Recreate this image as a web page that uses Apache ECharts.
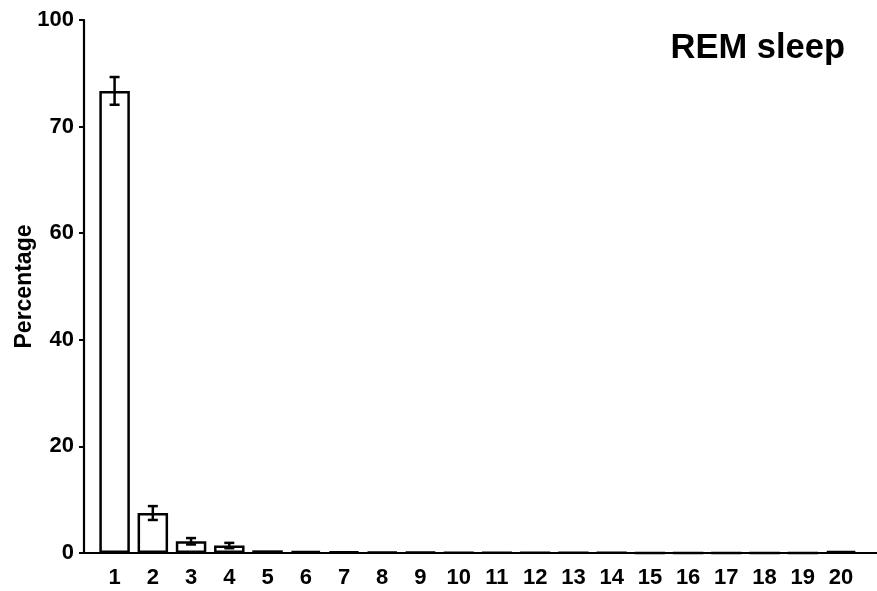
<!DOCTYPE html>
<html>
<head>
<meta charset="utf-8">
<script src="https://cdn.jsdelivr.net/npm/echarts@6/dist/echarts.min.js"></script>
<style>html,body{margin:0;padding:0;background:#fff}#c{width:877px;height:591px}</style>
</head>
<body>
<div id="c"></div>
<script>
const categories = [1,2,3,4,5,6,7,8,9,10,11,12,13,14,15,16,17,18,19,20];
const values = [86.7, 7.5, 2.2, 1.4, 0.5, 0.35, 0.25, 0.2, 0.15, 0.1, 0.1, 0.05, 0.05, 0.05, 0, 0, 0, 0, 0, 0.35];
const errors = [2.6, 1.3, 0.6, 0.5, 0, 0, 0, 0, 0, 0, 0, 0, 0, 0, 0, 0, 0, 0, 0, 0];
const yTicks = [0, 20, 40, 60, 80, 100];
const yTickLabels = ['0', '20', '40', '60', '70', '100'];
const title = 'REM sleep';
const yName = 'Percentage';

const font = 'Liberation Sans, Arial, sans-serif';
const chart = echarts.init(document.getElementById('c'));
chart.setOption({
  animation: false,
  backgroundColor: '#fff',
  title: {
    text: title, right: 27, top: 26,
    textStyle: { fontFamily: font, fontWeight: 'bold', fontSize: 34.5, color: '#000' }
  },
  grid: { left: 84, right: 0, top: 20, bottom: 38, containLabel: false, outerBoundsMode: 'none' },
  xAxis: {
    type: 'value', min: 0.2, max: 20.94,
    splitLine: { show: false },
    axisLine: { show: true, lineStyle: { color: '#000', width: 2.2 } },
    axisTick: { show: false },
    axisLabel: {
      customValues: categories,
      formatter: v => String(v),
      margin: 14,
      fontFamily: font, fontWeight: 'bold', fontSize: 22, color: '#000'
    }
  },
  yAxis: {
    type: 'value', min: 0, max: 100,
    name: yName, nameLocation: 'middle', nameRotate: 90, nameGap: 48, nameMoveOverlap: false,
    nameTextStyle: { fontFamily: font, fontWeight: 'bold', fontSize: 23, color: '#000' },
    splitLine: { show: false },
    axisLine: { show: true, lineStyle: { color: '#000', width: 2.2 } },
    axisTick: { show: true, length: 5, inside: false, customValues: yTicks, lineStyle: { color: '#000', width: 2 } },
    axisLabel: {
      customValues: yTicks,
      formatter: v => yTickLabels[yTicks.indexOf(v)],
      margin: 10,
      fontFamily: font, fontWeight: 'bold', fontSize: 22, color: '#000'
    }
  },
  series: [
    {
      type: 'bar',
      barWidth: 30.5,
      data: categories.map((c, i) => [c, values[i]]),
      itemStyle: { color: '#fff', borderColor: '#000', borderWidth: 2.5 }
    },
    {
      type: 'custom',
      data: categories.map((c, i) => [c, values[i] - errors[i], values[i] + errors[i]]),
      renderItem: function (params, api) {
        if (api.value(2) - api.value(1) <= 0) return null;
        const lo = api.coord([api.value(0), api.value(1)]);
        const hi = api.coord([api.value(0), api.value(2)]);
        const hw = 5;
        const st = { stroke: '#000', lineWidth: 2.5 };
        return {
          type: 'group',
          children: [
            { type: 'line', shape: { x1: lo[0], y1: lo[1], x2: hi[0], y2: hi[1] }, style: st },
            { type: 'line', shape: { x1: hi[0] - hw, y1: hi[1], x2: hi[0] + hw, y2: hi[1] }, style: st },
            { type: 'line', shape: { x1: lo[0] - hw, y1: lo[1], x2: lo[0] + hw, y2: lo[1] }, style: st }
          ]
        };
      },
      z: 5
    }
  ]
});
</script>
</body>
</html>
